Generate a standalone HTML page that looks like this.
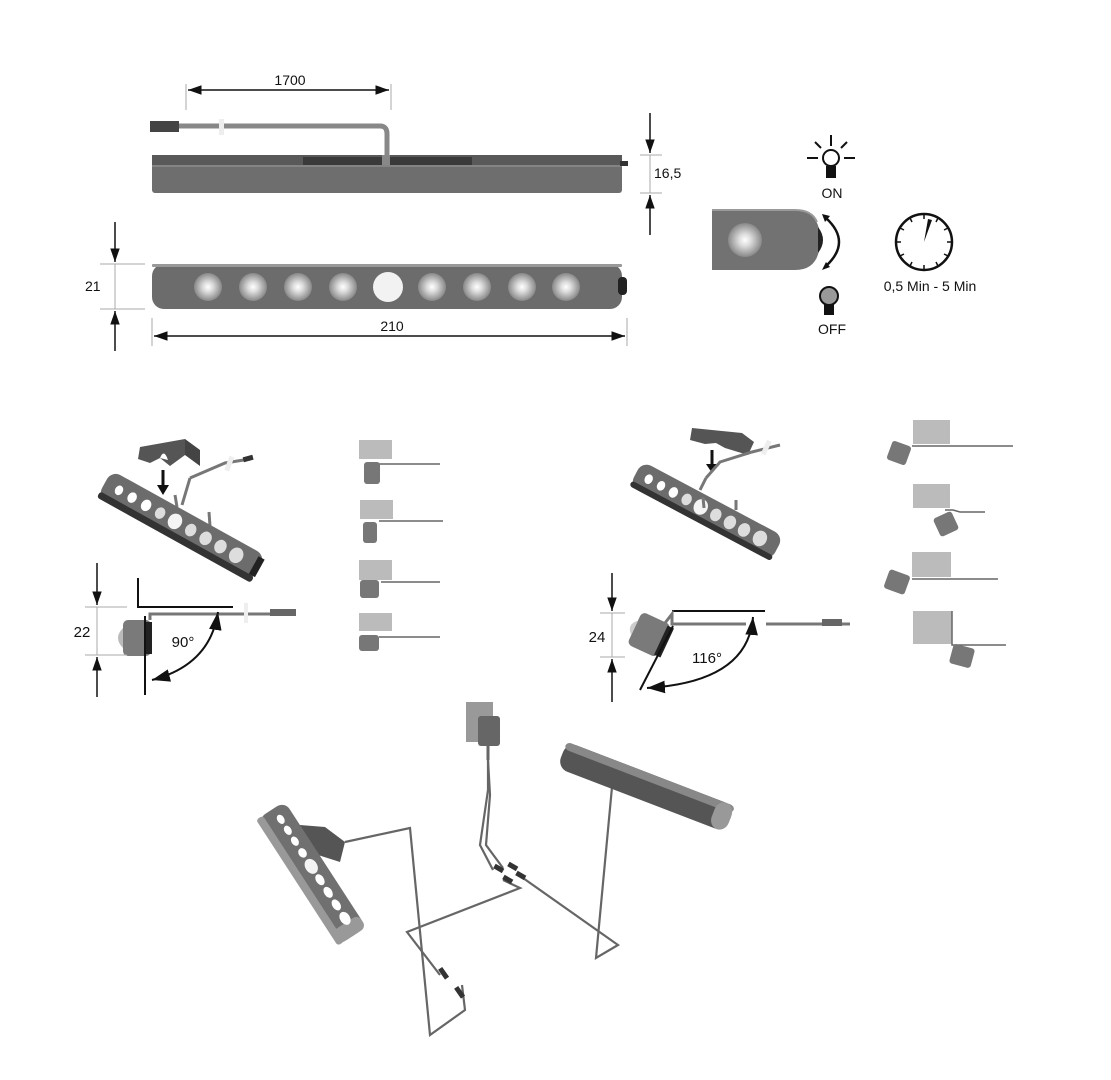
<!DOCTYPE html>
<html><head><meta charset="utf-8"><style>
html,body{margin:0;padding:0;background:#fff;}
svg{display:block;}
text{font-family:"Liberation Sans","DejaVu Sans",sans-serif;fill:#111;}
</style></head><body>
<svg width="1111" height="1080" viewBox="0 0 1111 1080" xmlns="http://www.w3.org/2000/svg">
<defs>
<marker id="ah" viewBox="0 0 10 10" refX="10" refY="5" markerWidth="9" markerHeight="9" orient="auto-start-reverse"><path d="M0,1.5 L10,5 L0,8.5z" fill="#111"/></marker>
<radialGradient id="led" cx="0.5" cy="0.5" r="0.5"><stop offset="0" stop-color="#fff"/><stop offset="0.35" stop-color="#ddd"/><stop offset="1" stop-color="#888"/></radialGradient>
</defs>

<!-- TOP: 1700 dimension -->
<line x1="186" y1="84" x2="186" y2="110" stroke="#aaa"/>
<line x1="391" y1="84" x2="391" y2="110" stroke="#aaa"/>
<line x1="188" y1="90" x2="389" y2="90" stroke="#111" stroke-width="1.5" marker-start="url(#ah)" marker-end="url(#ah)"/>
<text x="290" y="85" font-size="14" text-anchor="middle">1700</text>
<!-- cable -->
<rect x="150" y="121" width="29" height="11" fill="#444"/>
<path d="M179,126 L380,126 Q387,126 387,134 L387,165" fill="none" stroke="#888" stroke-width="5"/>
<rect x="219" y="119" width="5" height="16" fill="#eee"/>
<!-- side bar -->
<rect x="152" y="155" width="470" height="38" rx="3" fill="#6e6e6e"/>
<rect x="152" y="155" width="470" height="10" fill="#595959"/>
<rect x="303" y="157" width="169" height="8" fill="#3a3a3a"/>
<line x1="152" y1="166" x2="622" y2="166" stroke="#999" stroke-width="1"/>
<rect x="620" y="161" width="8" height="5" fill="#333"/>
<rect x="382" y="155" width="8" height="10" fill="#888"/>
<!-- 16,5 -->
<line x1="640" y1="155" x2="662" y2="155" stroke="#aaa"/>
<line x1="640" y1="193" x2="662" y2="193" stroke="#aaa"/>
<line x1="650" y1="113" x2="650" y2="153" stroke="#111" stroke-width="1.5" marker-end="url(#ah)"/>
<line x1="650" y1="235" x2="650" y2="195" stroke="#111" stroke-width="1.5" marker-end="url(#ah)"/>
<line x1="650" y1="155" x2="650" y2="193" stroke="#aaa"/>
<text x="654" y="178" font-size="14">16,5</text>

<!-- front bar -->
<rect x="152" y="264" width="470" height="45" rx="12" fill="#6c6c6c"/>
<rect x="152" y="264" width="470" height="3" rx="1" fill="#999"/>
<rect x="618" y="277" width="9" height="18" rx="4" fill="#222"/>
<g>
<circle cx="208" cy="287" r="14" fill="url(#led)"/>
<circle cx="253" cy="287" r="14" fill="url(#led)"/>
<circle cx="298" cy="287" r="14" fill="url(#led)"/>
<circle cx="343" cy="287" r="14" fill="url(#led)"/>
<circle cx="388" cy="287" r="15" fill="#f2f2f2"/>
<circle cx="432" cy="287" r="14" fill="url(#led)"/>
<circle cx="477" cy="287" r="14" fill="url(#led)"/>
<circle cx="522" cy="287" r="14" fill="url(#led)"/>
<circle cx="566" cy="287" r="14" fill="url(#led)"/>
</g>
<!-- 21 -->
<line x1="100" y1="264" x2="145" y2="264" stroke="#aaa"/>
<line x1="100" y1="309" x2="145" y2="309" stroke="#aaa"/>
<line x1="115" y1="222" x2="115" y2="262" stroke="#111" stroke-width="1.5" marker-end="url(#ah)"/>
<line x1="115" y1="351" x2="115" y2="311" stroke="#111" stroke-width="1.5" marker-end="url(#ah)"/>
<line x1="115" y1="264" x2="115" y2="309" stroke="#aaa"/>
<text x="85" y="291" font-size="14">21</text>
<!-- 210 -->
<line x1="152" y1="318" x2="152" y2="346" stroke="#aaa"/>
<line x1="627" y1="318" x2="627" y2="346" stroke="#aaa"/>
<line x1="154" y1="336" x2="625" y2="336" stroke="#111" stroke-width="1.5" marker-start="url(#ah)" marker-end="url(#ah)"/>
<text x="392" y="331" font-size="14" text-anchor="middle">210</text>

<!-- right icons -->
<path d="M712,210 L795,210 Q820,210 820,240 Q820,270 795,270 L712,270z" fill="#727272"/>
<path d="M712,210 L795,210 Q812,210 817,222" fill="none" stroke="#9a9a9a" stroke-width="2"/>
<circle cx="745" cy="240" r="17" fill="url(#led)"/>
<path d="M818,227 Q828,240 818,253z" fill="#222"/>
<path d="M826,218 Q852,242 826,266" fill="none" stroke="#111" stroke-width="2.5"/>
<path d="M822,214 L830,216 L825,222z" fill="#111"/>
<path d="M822,270 L830,267 L826,262z" fill="#111"/>
<!-- ON bulb -->
<g stroke="#111" stroke-width="2">
<line x1="831" y1="135" x2="831" y2="146"/>
<line x1="807" y1="158" x2="818" y2="158"/>
<line x1="844" y1="158" x2="855" y2="158"/>
<line x1="815" y1="142" x2="821" y2="148"/>
<line x1="847" y1="142" x2="841" y2="148"/>
<circle cx="831" cy="158" r="8" fill="#fff"/>
</g>
<rect x="826" y="166" width="10" height="12" fill="#111"/>
<text x="832" y="198" font-size="14" text-anchor="middle">ON</text>
<!-- OFF bulb -->
<circle cx="829" cy="296" r="9" fill="#999" stroke="#111" stroke-width="2"/>
<rect x="824" y="304" width="10" height="11" fill="#111"/>
<text x="832" y="334" font-size="14" text-anchor="middle">OFF</text>
<!-- clock -->
<circle cx="924" cy="242" r="28" fill="none" stroke="#111" stroke-width="2.5"/>
<g stroke="#111" stroke-width="1.5">
<line x1="924" y1="214" x2="924" y2="219"/><line x1="924" y1="270" x2="924" y2="265"/>
<line x1="896" y1="242" x2="901" y2="242"/><line x1="952" y1="242" x2="947" y2="242"/>
<line x1="910" y1="218" x2="912" y2="222"/><line x1="938" y1="266" x2="936" y2="262"/>
<line x1="900" y1="228" x2="904" y2="230"/><line x1="948" y1="256" x2="944" y2="254"/>
<line x1="900" y1="256" x2="904" y2="254"/><line x1="948" y1="228" x2="944" y2="230"/>
<line x1="910" y1="266" x2="912" y2="262"/><line x1="938" y1="218" x2="936" y2="222"/>
</g>
<path d="M924,242 L928,219 L932,220z" fill="#111"/>
<text x="930" y="291" font-size="14" text-anchor="middle">0,5 Min - 5 Min</text>

<!-- MIDDLE LEFT: 3D bar -->
<path d="M140,447 L185,439 L185,455 L170,466 L160,458 L150,463 L138,459z" fill="#555"/>
<path d="M185,439 L200,450 L200,466 L185,455z" fill="#444"/>
<path d="M160,458 Q164,448 168,460" fill="#fff"/>
<path d="M190,478 L225,463 L250,459" fill="none" stroke="#777" stroke-width="3"/>
<path d="M190,478 L182,505" fill="none" stroke="#777" stroke-width="3"/>
<rect x="227" y="456" width="5" height="15" fill="#eee" transform="rotate(20 229 463)"/>
<rect x="243" y="456" width="10" height="5" fill="#333" transform="rotate(-15 248 458)"/>
<line x1="163" y1="470" x2="163" y2="488" stroke="#111" stroke-width="3"/>
<path d="M157,485 L169,485 L163,495z" fill="#111"/>
<path d="M175,495 L177,507 M209,512 L210,526" stroke="#777" stroke-width="3"/>
<g transform="translate(181,527) rotate(29)">
<rect x="-88" y="-16" width="176" height="30" rx="10" fill="#6c6c6c"/>
<rect x="-88" y="8" width="176" height="7" rx="3" fill="#333"/>
<rect x="82" y="-12" width="7" height="20" fill="#222"/>
<ellipse cx="-72" cy="-2" rx="4" ry="5" fill="#fff"/>
<ellipse cx="-57" cy="-2" rx="4.5" ry="5.5" fill="#fff"/>
<ellipse cx="-41" cy="-2" rx="5" ry="6" fill="#fff"/>
<ellipse cx="-25" cy="-2" rx="5" ry="6" fill="#ddd"/>
<ellipse cx="-8" cy="-2" rx="7" ry="8" fill="#f4f4f4"/>
<ellipse cx="10" cy="-2" rx="5.5" ry="6.5" fill="#ddd"/>
<ellipse cx="27" cy="-2" rx="6" ry="7" fill="#ddd"/>
<ellipse cx="44" cy="-2" rx="6" ry="7" fill="#ddd"/>
<ellipse cx="62" cy="-2" rx="7" ry="8" fill="#ddd"/>
</g>
<!-- left side view -->
<path d="M138,578 L138,607 L233,607" fill="none" stroke="#111" stroke-width="2"/>
<path d="M150,620 L150,614 L296,614" fill="none" stroke="#777" stroke-width="3"/>
<rect x="244" y="603" width="4" height="20" fill="#eee"/>
<rect x="270" y="609" width="26" height="7" fill="#666"/>
<rect x="123" y="620" width="28" height="36" rx="5" fill="#7a7a7a"/>
<path d="M123,628 Q113,638 123,648z" fill="#bbb"/>
<rect x="145" y="622" width="7" height="32" fill="#222"/>
<line x1="145" y1="616" x2="145" y2="695" stroke="#111" stroke-width="2"/>
<path d="M218,612 Q210,665 152,680" fill="none" stroke="#111" stroke-width="2" marker-start="url(#ah)" marker-end="url(#ah)"/>
<text x="183" y="647" font-size="15" text-anchor="middle">90°</text>
<line x1="85" y1="607" x2="127" y2="607" stroke="#aaa"/>
<line x1="85" y1="655" x2="127" y2="655" stroke="#aaa"/>
<line x1="97" y1="563" x2="97" y2="605" stroke="#111" stroke-width="1.5" marker-end="url(#ah)"/>
<line x1="97" y1="697" x2="97" y2="657" stroke="#111" stroke-width="1.5" marker-end="url(#ah)"/>
<line x1="97" y1="607" x2="97" y2="655" stroke="#aaa"/>
<text x="82" y="637" font-size="15" text-anchor="middle">22</text>

<!-- small views left -->
<g fill="#bbb">
<rect x="359" y="440" width="33" height="19"/>
<rect x="360" y="500" width="33" height="19"/>
<rect x="359" y="560" width="33" height="20"/>
<rect x="359" y="613" width="33" height="18"/>
</g>
<g stroke="#666" stroke-width="1.5">
<line x1="378" y1="464" x2="440" y2="464"/>
<line x1="379" y1="521" x2="443" y2="521"/>
<line x1="381" y1="582" x2="440" y2="582"/>
<line x1="379" y1="637" x2="440" y2="637"/>
</g>
<g fill="#777">
<rect x="364" y="462" width="16" height="22" rx="3"/>
<rect x="363" y="522" width="14" height="21" rx="3"/>
<rect x="360" y="580" width="19" height="18" rx="3"/>
<rect x="359" y="635" width="20" height="16" rx="3"/>
</g>

<!-- MIDDLE RIGHT -->
<path d="M692,428 L742,433 L754,442 L748,455 L725,448 L716,443 L705,444 L690,440z" fill="#555"/>
<line x1="712" y1="450" x2="712" y2="467" stroke="#111" stroke-width="3"/>
<path d="M706,464 L718,464 L712,473z" fill="#111"/>
<path d="M706,478 L720,462 L752,452 L780,445" fill="none" stroke="#777" stroke-width="3"/>
<path d="M706,478 L700,490" fill="none" stroke="#777" stroke-width="3"/>
<rect x="764" y="440" width="5" height="15" fill="#eee" transform="rotate(25 766 447)"/>
<g transform="translate(706,512) rotate(28)">
<rect x="-80" y="-15" width="160" height="28" rx="10" fill="#6c6c6c"/>
<rect x="-80" y="7" width="160" height="6" rx="3" fill="#333"/>
<ellipse cx="-66" cy="-2" rx="4" ry="5" fill="#fff"/>
<ellipse cx="-52" cy="-2" rx="4" ry="5" fill="#fff"/>
<ellipse cx="-38" cy="-2" rx="4.5" ry="5.5" fill="#fff"/>
<ellipse cx="-23" cy="-2" rx="5" ry="6" fill="#ddd"/>
<ellipse cx="-7" cy="-2" rx="7" ry="8" fill="#f4f4f4"/>
<ellipse cx="10" cy="-2" rx="5.5" ry="6.5" fill="#ddd"/>
<ellipse cx="26" cy="-2" rx="6" ry="7" fill="#ddd"/>
<ellipse cx="42" cy="-2" rx="6" ry="7" fill="#ddd"/>
<ellipse cx="60" cy="-2" rx="7" ry="8" fill="#ddd"/>
</g>
<path d="M703,497 L704,508 M736,500 L736,510" stroke="#777" stroke-width="3"/>
<!-- right side view -->
<line x1="672" y1="611" x2="765" y2="611" stroke="#111" stroke-width="2"/>
<path d="M665,623 L672,614 L672,624 L746,624" fill="none" stroke="#777" stroke-width="3"/>
<line x1="766" y1="624" x2="850" y2="624" stroke="#777" stroke-width="3"/>
<rect x="822" y="619" width="20" height="7" fill="#666"/>
<g transform="translate(650,635) rotate(25)">
<rect x="-17" y="-18" width="32" height="36" rx="5" fill="#7a7a7a"/>
<rect x="12" y="-16" width="7" height="32" fill="#222"/>
<path d="M-17,-8 Q-26,0 -17,8z" fill="#ccc"/>
</g>
<line x1="673" y1="626" x2="640" y2="690" stroke="#111" stroke-width="2"/>
<path d="M753,617 Q748,682 647,688" fill="none" stroke="#111" stroke-width="2" marker-start="url(#ah)" marker-end="url(#ah)"/>
<text x="707" y="663" font-size="15" text-anchor="middle">116°</text>
<line x1="600" y1="613" x2="625" y2="613" stroke="#aaa"/>
<line x1="600" y1="657" x2="625" y2="657" stroke="#aaa"/>
<line x1="612" y1="573" x2="612" y2="611" stroke="#111" stroke-width="1.5" marker-end="url(#ah)"/>
<line x1="612" y1="702" x2="612" y2="659" stroke="#111" stroke-width="1.5" marker-end="url(#ah)"/>
<line x1="612" y1="613" x2="612" y2="657" stroke="#aaa"/>
<text x="597" y="642" font-size="15" text-anchor="middle">24</text>

<!-- small views right -->
<g fill="#bbb">
<rect x="913" y="420" width="37" height="24"/>
<rect x="913" y="484" width="37" height="24"/>
<rect x="912" y="552" width="39" height="25"/>
<rect x="913" y="611" width="39" height="33"/>
</g>
<g stroke="#666" stroke-width="1.5" fill="none">
<path d="M912,446 L1013,446"/>
<path d="M945,510 L953,510 L960,512 L985,512"/>
<path d="M912,579 L998,579"/>
<path d="M952,611 L952,645 L1006,645"/>
</g>
<g fill="#777">
<rect x="889" y="443" width="20" height="20" rx="3" transform="rotate(20 899 453)"/>
<rect x="936" y="514" width="20" height="20" rx="3" transform="rotate(-25 946 524)"/>
<rect x="886" y="572" width="22" height="20" rx="3" transform="rotate(20 897 582)"/>
<rect x="951" y="646" width="22" height="20" rx="3" transform="rotate(15 962 656)"/>
</g>

<!-- BOTTOM: installation -->
<rect x="466" y="702" width="27" height="40" fill="#999"/>
<rect x="478" y="716" width="22" height="30" rx="3" fill="#666"/>
<line x1="488" y1="746" x2="488" y2="760" stroke="#666" stroke-width="3"/>
<g fill="none" stroke="#666" stroke-width="2.2">
<path d="M488,760 L488,790 L480,845 L493,870"/>
<path d="M488,760 L490,795 L486,845 L503,868"/>
<path d="M523,878 L618,945 L596,958 L612,787"/>
<path d="M503,880 L520,888 L407,932 L440,975"/>
<path d="M345,842 L410,828 L430,1035 L465,1010 L462,985"/>
</g>
<g fill="#333">
<rect x="494" y="866" width="10" height="5" transform="rotate(30 499 868)"/>
<rect x="508" y="864" width="10" height="5" transform="rotate(30 513 866)"/>
<rect x="516" y="873" width="10" height="5" transform="rotate(30 521 875)"/>
<rect x="503" y="877" width="10" height="5" transform="rotate(30 508 879)"/>
<rect x="438" y="971" width="12" height="5" transform="rotate(55 444 973)"/>
<rect x="454" y="990" width="12" height="5" transform="rotate(55 460 992)"/>
</g>
<g transform="translate(646,787) rotate(21)">
<rect x="-90" y="-14" width="180" height="28" rx="11" fill="#555"/>
<rect x="-90" y="-14" width="180" height="8" rx="5" fill="#888"/>
<rect x="72" y="-14" width="18" height="28" rx="10" fill="#999"/>
</g>
<path d="M300,825 L325,827 L345,842 L340,862 L318,855 L300,845z" fill="#555"/>
<g transform="translate(312,873) rotate(57)">
<rect x="-75" y="-16" width="150" height="32" rx="9" fill="#707070"/>
<rect x="-75" y="10" width="150" height="8" rx="3" fill="#999"/>
<rect x="60" y="-16" width="15" height="32" rx="6" fill="#999"/>
<ellipse cx="-62" cy="-3" rx="5" ry="3.5" fill="#fff"/>
<ellipse cx="-49" cy="-3" rx="5" ry="3.5" fill="#fff"/>
<ellipse cx="-36" cy="-3" rx="5" ry="3.5" fill="#fff"/>
<ellipse cx="-22" cy="-3" rx="5" ry="4" fill="#fff"/>
<ellipse cx="-6" cy="-3" rx="8" ry="6" fill="#f4f4f4"/>
<ellipse cx="10" cy="-3" rx="6" ry="4" fill="#fff"/>
<ellipse cx="25" cy="-3" rx="6" ry="4" fill="#fff"/>
<ellipse cx="40" cy="-3" rx="6" ry="4" fill="#fff"/>
<ellipse cx="56" cy="-3" rx="7" ry="5" fill="#fff"/>
</g>
</svg>
</body></html>
